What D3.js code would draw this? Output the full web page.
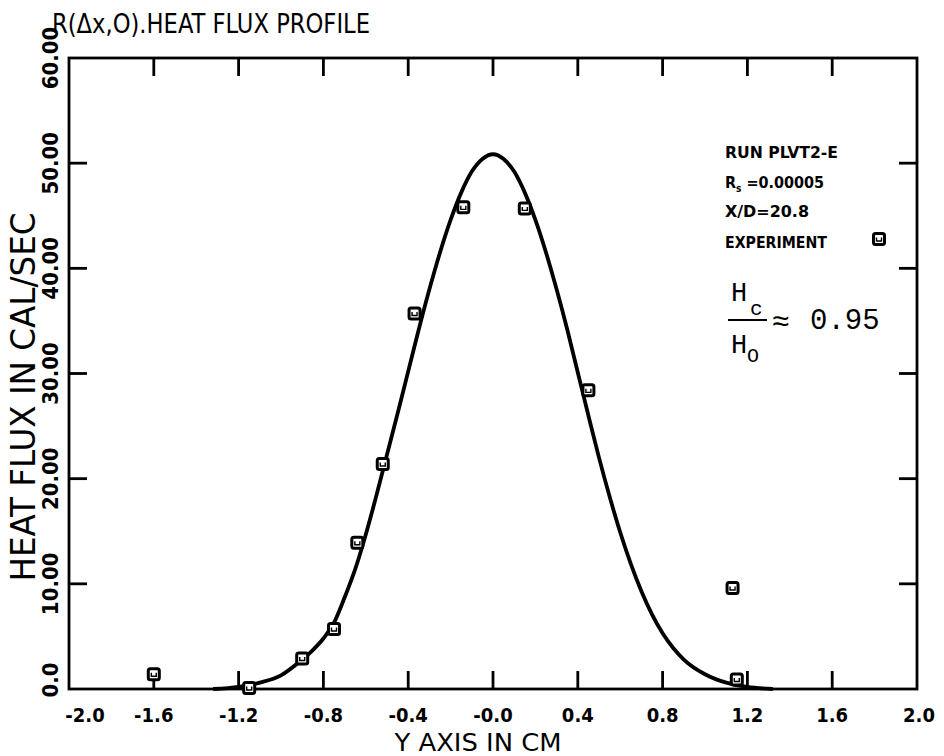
<!DOCTYPE html>
<html><head><meta charset="utf-8">
<script src="https://cdn.jsdelivr.net/npm/d3@7"></script>
<style>
html,body{margin:0;padding:0;background:#fff;}
svg{display:block;}
.plot{font-family:"DejaVu Sans Condensed","Liberation Sans Narrow","DejaVu Sans",sans-serif;}
</style></head>
<body>
<svg id="chart" width="944" height="756"></svg>
<script>
// ---- data ----
const xTickValues = [-2.0,-1.6,-1.2,-0.8,-0.4,0.0,0.4,0.8,1.2,1.6,2.0];
const xTickLabels = ["-2.0","-1.6","-1.2","-0.8","-0.4","-0.0","0.4","0.8","1.2","1.6","2.0"];
const yTickValues = [0,10,20,30,40,50,60];
const yTickLabels = ["0.0","10.00","20.00","30.00","40.00","50.00","60.00"];
// experiment points (square markers)
const expX = [-1.60,-1.15,-0.90,-0.75,-0.64,-0.52,-0.37,-0.14,0.15,0.45,1.13,1.15];
const expY = [1.4,0.1,2.9,5.7,13.9,21.4,35.7,45.8,45.7,28.4,9.6,0.9];
// computed profile curve
const curveX = [-1.32,-1.2,-1.1,-1.0,-0.9,-0.85,-0.8,-0.75,-0.7,-0.65,-0.6,-0.55,-0.5,-0.45,-0.4,-0.35,-0.3,-0.25,-0.2,-0.15,-0.1,-0.05,0.0,
                0.05,0.1,0.15,0.2,0.25,0.3,0.35,0.4,0.45,0.5,0.55,0.6,0.65,0.7,0.75,0.8,0.85,0.9,1.0,1.1,1.2,1.32];
const curveY = [0.0,0.2,0.6,1.3,2.8,3.7,4.8,6.3,8.7,11.4,14.7,18.4,22.3,26.2,30.2,34.2,38.0,41.5,44.6,47.2,49.2,50.4,50.85,
                50.4,49.2,47.2,44.6,41.5,38.0,34.2,30.1,26.0,22.0,18.3,14.9,11.9,9.3,7.1,5.3,3.9,2.8,1.4,0.6,0.2,0.0];

const svg = d3.select("#chart");
const g = svg.append("g").attr("class","plot");
const W = {l:69, r:917, t:58, b:689};
const x = d3.scaleLinear().domain([-2,2]).range([W.l,W.r]);
const y = d3.scaleLinear().domain([0,60]).range([W.b,W.t]);
const SW = 2.8;

// frame
g.append("rect").attr("x",W.l).attr("y",W.t).attr("width",W.r-W.l).attr("height",W.b-W.t)
 .attr("fill","none").attr("stroke","#000").attr("stroke-width",SW);

// inner ticks
const innerX = xTickValues.slice(1,-1), innerY = yTickValues.slice(1,-1);
const tl = 18;
g.selectAll(".tb").data(innerX).join("line").attr("x1",d=>x(d)).attr("x2",d=>x(d)).attr("y1",W.b).attr("y2",W.b-tl).attr("stroke","#000").attr("stroke-width",SW);
g.selectAll(".tt").data(innerX).join("line").attr("x1",d=>x(d)).attr("x2",d=>x(d)).attr("y1",W.t).attr("y2",W.t+tl).attr("stroke","#000").attr("stroke-width",SW);
g.selectAll(".tlft").data(innerY).join("line").attr("x1",W.l).attr("x2",W.l+tl).attr("y1",d=>y(d)).attr("y2",d=>y(d)).attr("stroke","#000").attr("stroke-width",SW);
g.selectAll(".trt").data(innerY).join("line").attr("x1",W.r).attr("x2",W.r-tl).attr("y1",d=>y(d)).attr("y2",d=>y(d)).attr("stroke","#000").attr("stroke-width",SW);

// x tick labels
g.selectAll(".xl").data(xTickValues).join("text")
 .attr("x",(d,i)=> i===0 ? x(d)+16 : (i===xTickValues.length-1 ? x(d)+2 : x(d)))
 .attr("y",722).attr("text-anchor","middle").attr("font-size",20).attr("font-weight","bold")
 .text((d,i)=>xTickLabels[i]);
// y tick labels (rotated)
g.selectAll(".yl").data(yTickValues).join("text")
 .attr("transform",(d,i)=>`translate(58,${i===0? y(d)-9 : y(d)}) rotate(-90)`)
 .attr("text-anchor","middle").attr("font-size",22).attr("font-weight","bold")
 .text((d,i)=>yTickLabels[i]);

// axis titles
g.append("text").attr("x",478).attr("y",751).attr("text-anchor","middle").attr("font-size",24)
 .attr("textLength",167).attr("lengthAdjust","spacingAndGlyphs").text("Y AXIS IN CM");
g.append("text").attr("transform","translate(35,397) rotate(-90)").attr("text-anchor","middle").attr("font-size",33)
 .attr("textLength",369).attr("lengthAdjust","spacingAndGlyphs").text("HEAT FLUX IN CAL/SEC");
// title
g.append("text").attr("x",52).attr("y",33).attr("font-size",27).attr("textLength",318).attr("lengthAdjust","spacingAndGlyphs")
 .text("R(Δx,O).HEAT FLUX PROFILE");

// curve
const line = d3.line().x(d=>x(d[0])).y(d=>y(d[1])).curve(d3.curveMonotoneX);
g.append("path").datum(d3.zip(curveX,curveY)).attr("d",line)
 .attr("fill","none").attr("stroke","#000").attr("stroke-width",3.8).attr("stroke-linejoin","round");

// markers
function marker(sel){
  sel.append("rect").attr("x",-5.5).attr("y",-5.5).attr("width",11).attr("height",11).attr("rx",2)
   .attr("fill","#fff").attr("stroke","#000").attr("stroke-width",3);
  sel.append("path").attr("d","M-2.5,-1.5 V2 H2.5 V-1.5").attr("fill","none").attr("stroke","#000").attr("stroke-width",1.4);
}
g.selectAll(".pt").data(d3.zip(expX,expY)).join("g")
 .attr("transform",d=>`translate(${x(d[0])},${y(d[1])})`).call(marker);

// legend
const lg = g.append("g").attr("font-size",16).attr("font-weight","bold");
lg.append("text").attr("x",725).attr("y",158).attr("textLength",113).attr("lengthAdjust","spacingAndGlyphs").text("RUN PLVT2-E");
const rs = lg.append("text").attr("x",725).attr("y",188);
rs.append("tspan").text("R");
rs.append("tspan").attr("font-size",10).attr("dy",4).text("s");
rs.append("tspan").attr("dy",-4).text(" =0.00005");
lg.append("text").attr("x",725).attr("y",217).attr("textLength",84).attr("lengthAdjust","spacingAndGlyphs").text("X/D=20.8");
lg.append("text").attr("x",725).attr("y",248).attr("textLength",102).attr("lengthAdjust","spacingAndGlyphs").text("EXPERIMENT");
lg.append("g").attr("transform","translate(879,239)").call(marker);

// ratio annotation
const an = g.append("g").attr("font-family","'Liberation Mono','DejaVu Sans Mono',monospace");
an.append("text").attr("x",731).attr("y",301).attr("font-size",27).text("H");
an.append("text").attr("x",750).attr("y",315).attr("font-size",21).text("c");
an.append("line").attr("x1",728).attr("x2",767).attr("y1",320).attr("y2",320).attr("stroke","#000").attr("stroke-width",2);
an.append("text").attr("x",731).attr("y",353).attr("font-size",27).text("H");
an.append("text").attr("x",747).attr("y",362).attr("font-size",20).text("O");
an.append("text").attr("x",772).attr("y",331).attr("font-size",30).text("≈");
an.append("text").attr("x",810).attr("y",329).attr("font-size",29).text("0.95");
</script>
</body></html>
